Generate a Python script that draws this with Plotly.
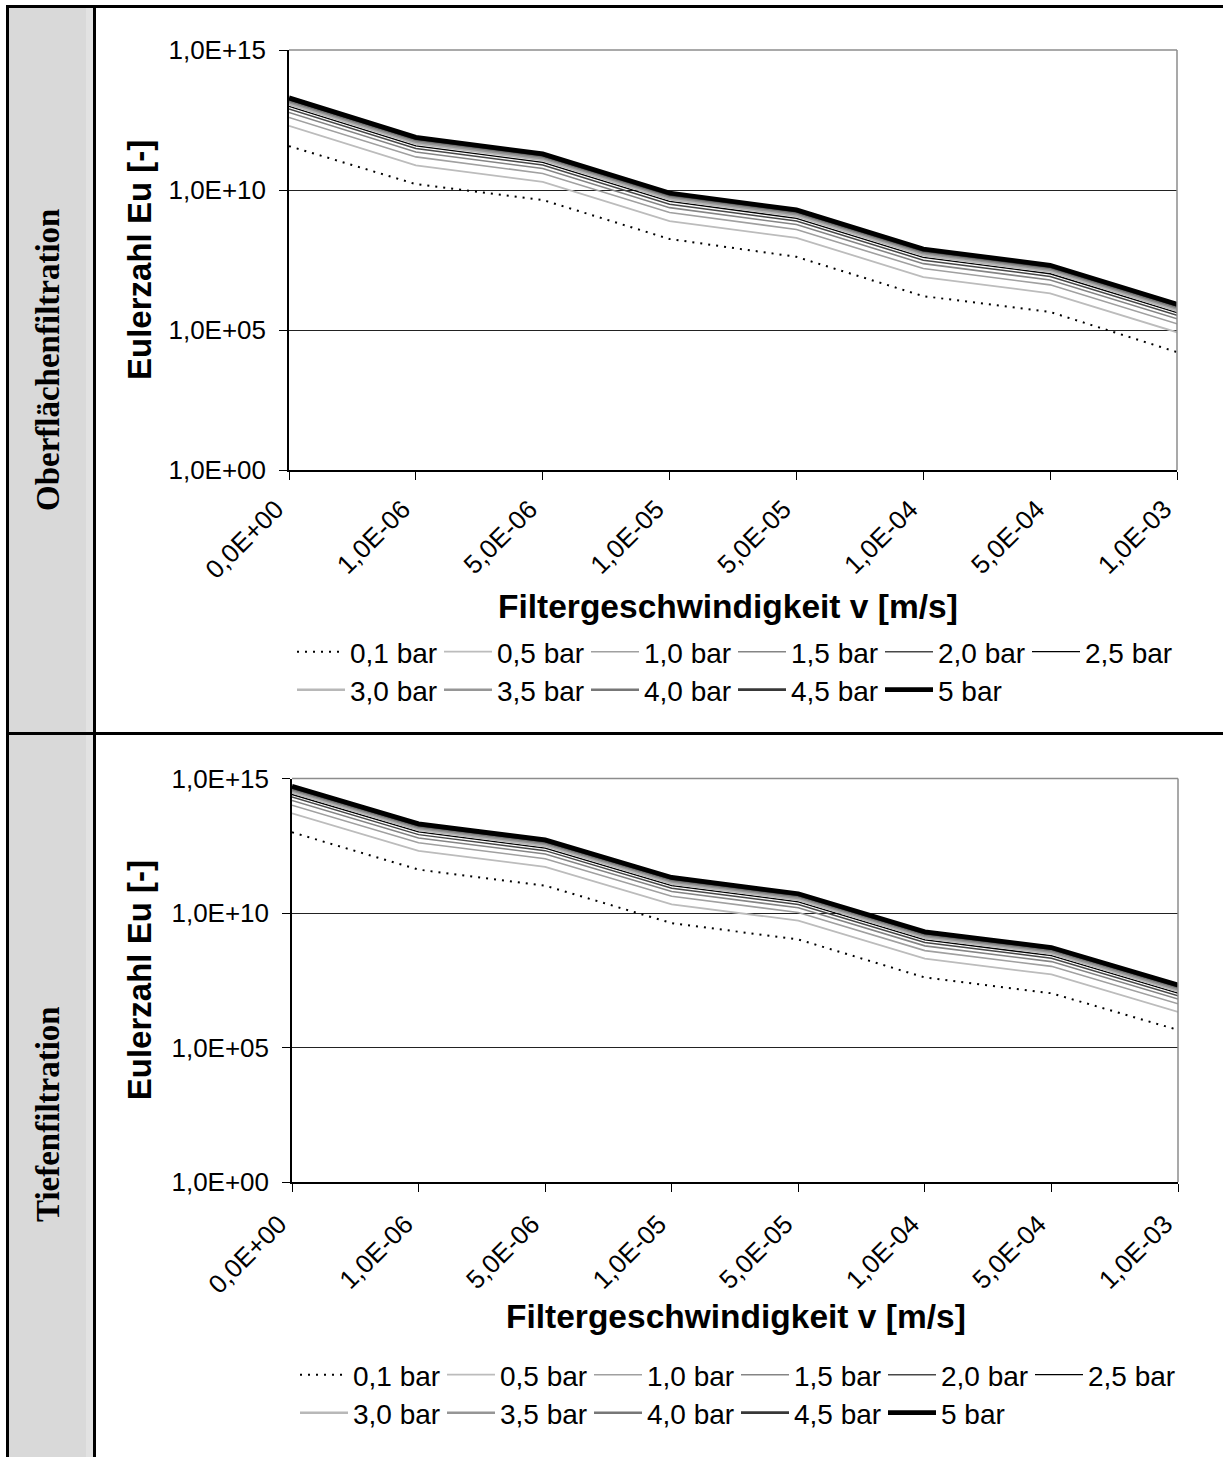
import plotly.graph_objects as go

W, H = 1223, 1457

# ---------------- data ----------------
categories = ["0,0E+00", "1,0E-06", "5,0E-06", "1,0E-05", "5,0E-05", "1,0E-04", "5,0E-04", "1,0E-03"]
series_names = ["0,1 bar", "0,5 bar", "1,0 bar", "1,5 bar", "2,0 bar", "2,5 bar",
                "3,0 bar", "3,5 bar", "4,0 bar", "4,5 bar", "5 bar"]
y_tickvals = [1, 1e5, 1e10, 1e15]
y_ticktext = ["1,0E+00", "1,0E+05", "1,0E+10", "1,0E+15"]

# Oberflächenfiltration
ober_p01 = [3.7e11, 1.62e10, 4.4e9, 1.78e8, 4.1e7, 1.62e6, 4.4e5, 1.62e4]
ober_p05 = [1.95e12, 7.6e10, 1.95e10, 7.8e8, 1.95e8, 7.8e6, 2.04e6, 8.3e4]
ober_p10 = [3.9e12, 1.52e11, 3.9e10, 1.56e9, 3.9e8, 1.56e7, 4.1e6, 1.66e5]
ober_p15 = [5.85e12, 2.28e11, 5.85e10, 2.34e9, 5.85e8, 2.34e7, 6.1e6, 2.5e5]
ober_p20 = [7.8e12, 3.04e11, 7.8e10, 3.12e9, 7.8e8, 3.12e7, 8.2e6, 3.33e5]
ober_p25 = [9.75e12, 3.8e11, 9.75e10, 3.9e9, 9.75e8, 3.9e7, 1.02e7, 4.16e5]
ober_p30 = [1.17e13, 4.55e11, 1.17e11, 4.68e9, 1.17e9, 4.68e7, 1.22e7, 5.0e5]
ober_p35 = [1.37e13, 5.3e11, 1.37e11, 5.46e9, 1.37e9, 5.46e7, 1.43e7, 5.8e5]
ober_p40 = [1.56e13, 6.1e11, 1.56e11, 6.24e9, 1.56e9, 6.24e7, 1.63e7, 6.66e5]
ober_p45 = [1.76e13, 6.8e11, 1.76e11, 7.0e9, 1.76e9, 7.0e7, 1.84e7, 7.5e5]
ober_p50 = [1.95e13, 7.6e11, 1.95e11, 7.8e9, 1.95e9, 7.8e7, 2.04e7, 8.3e5]

# Tiefenfiltration
tief_p01 = [1.0e13, 4.1e11, 1.04e11, 4.2e9, 1.04e9, 4.0e7, 1.04e7, 4.5e5]
tief_p05 = [5.1e13, 2.05e12, 5.2e11, 2.1e10, 5.2e9, 2.0e8, 5.2e7, 2.1e6]
tief_p10 = [1.02e14, 4.1e12, 1.04e12, 4.2e10, 1.04e10, 4.0e8, 1.04e8, 4.2e6]
tief_p15 = [1.53e14, 6.15e12, 1.56e12, 6.3e10, 1.56e10, 6.0e8, 1.56e8, 6.3e6]
tief_p20 = [2.04e14, 8.2e12, 2.08e12, 8.4e10, 2.08e10, 8.0e8, 2.08e8, 8.4e6]
tief_p25 = [2.55e14, 1.03e13, 2.6e12, 1.05e11, 2.6e10, 1.0e9, 2.6e8, 1.05e7]
tief_p30 = [3.06e14, 1.23e13, 3.12e12, 1.26e11, 3.12e10, 1.2e9, 3.12e8, 1.26e7]
tief_p35 = [3.57e14, 1.44e13, 3.64e12, 1.47e11, 3.64e10, 1.4e9, 3.64e8, 1.47e7]
tief_p40 = [4.08e14, 1.64e13, 4.16e12, 1.68e11, 4.16e10, 1.6e9, 4.16e8, 1.68e7]
tief_p45 = [4.6e14, 1.85e13, 4.7e12, 1.89e11, 4.7e10, 1.8e9, 4.7e8, 1.89e7]
tief_p50 = [5.1e14, 2.05e13, 5.2e12, 2.1e11, 5.2e10, 2.0e9, 5.2e8, 2.1e7]

ober_series = [ober_p01, ober_p05, ober_p10, ober_p15, ober_p20, ober_p25,
               ober_p30, ober_p35, ober_p40, ober_p45, ober_p50]
tief_series = [tief_p01, tief_p05, tief_p10, tief_p15, tief_p20, tief_p25,
               tief_p30, tief_p35, tief_p40, tief_p45, tief_p50]

# ---------------- styles ----------------
line_styles = [
    dict(color="#000000", width=2, dash="2px,6px"),
    dict(color="#bcbcbc", width=1.8),
    dict(color="#a0a0a0", width=1.6),
    dict(color="#858585", width=1.6),
    dict(color="#484848", width=1.5),
    dict(color="#000000", width=1.3),
    dict(color="#b8b8b8", width=2.5),
    dict(color="#969696", width=2.5),
    dict(color="#777777", width=2.5),
    dict(color="#383838", width=2.8),
    dict(color="#000000", width=4.8),
]

SANS = "Arial, Liberation Sans, sans-serif"
SERIF = "Times New Roman, Liberation Serif, serif"


def px(x):
    return x / W


def py(y):
    return 1 - y / H


fig = go.Figure()

for i, (name, vals) in enumerate(zip(series_names, ober_series)):
    fig.add_trace(go.Scatter(
        x=categories, y=vals, mode="lines", name=name, line=line_styles[i],
        xaxis="x", yaxis="y", legend="legend" if i < 6 else "legend2",
        showlegend=True))

for i, (name, vals) in enumerate(zip(series_names, tief_series)):
    fig.add_trace(go.Scatter(
        x=categories, y=vals, mode="lines", name=name, line=line_styles[i],
        xaxis="x2", yaxis="y2", legend="legend3" if i < 6 else "legend4",
        showlegend=True))

# plot areas (pixel coordinates)
P1 = dict(l=289, r=1177, t=50, b=470)
P2 = dict(l=292, r=1178, t=778.5, b=1182)


def xaxis_conf(P, anchor, standoff):
    return dict(
        domain=[px(P["l"]), px(P["r"])], anchor=anchor, type="category",
        categoryorder="array", categoryarray=categories, range=[0, 7],
        tickangle=-45, ticks="outside", ticklen=8, tickwidth=1.2, tickcolor="#000",
        ticklabelstandoff=standoff, ticklabelshift=-13,
        showline=True, linecolor="#000", linewidth=1.5, showgrid=False, zeroline=False,
        automargin=False,
        tickfont=dict(family=SANS, size=26, color="#000"), fixedrange=True,
    )


def yaxis_conf(P, anchor):
    return dict(
        domain=[py(P["b"]), py(P["t"])], anchor=anchor, type="log", range=[0, 15],
        tickmode="array", tickvals=y_tickvals, ticktext=y_ticktext,
        ticks="outside", ticklen=8, tickwidth=1.2, tickcolor="#000",
        showline=True, linecolor="#000", linewidth=1.5,
        showgrid=True, gridcolor="#222", gridwidth=1.2, zeroline=False,
        ticklabelstandoff=8, automargin=False,
        tickfont=dict(family=SANS, size=26, color="#000"), fixedrange=True,
    )


legend_common = dict(orientation="h", xanchor="left", yanchor="middle",
                     font=dict(family=SANS, size=28, color="#000"),
                     bgcolor="rgba(0,0,0,0)", borderwidth=0,
                     entrywidthmode="pixels", entrywidth=84, itemwidth=48,
                     traceorder="normal", itemclick=False, itemdoubleclick=False)

fig.update_layout(
    width=W, height=H, margin=dict(l=0, r=0, t=0, b=0, pad=0, autoexpand=False),
    paper_bgcolor="#ffffff", plot_bgcolor="#ffffff",
    xaxis=xaxis_conf(P1, "y", 4), yaxis=yaxis_conf(P1, "x"),
    xaxis2=xaxis_conf(P2, "y2", 7), yaxis2=yaxis_conf(P2, "x2"),
    legend=dict(legend_common, x=px(292), y=py(652)),
    legend2=dict(legend_common, x=px(292), y=py(690)),
    legend3=dict(legend_common, x=px(295), y=py(1375)),
    legend4=dict(legend_common, x=px(295), y=py(1413)),
    showlegend=True,
)

shapes = []
# table structure
shapes.append(dict(type="rect", xref="paper", yref="paper", x0=px(8), x1=px(93), y0=0, y1=py(7),
                   fillcolor="#d9d9d9", line=dict(width=0), layer="below"))
shapes.append(dict(type="rect", xref="paper", yref="paper", x0=px(86), x1=px(93), y0=0, y1=py(7),
                   fillcolor="#e2e2e2", line=dict(width=0), layer="below"))
for (x0, x1, y0, y1) in [(6, W, 5, 8), (6, 9, 5, H), (93, 96, 5, H), (6, W, 732, 735)]:
    shapes.append(dict(type="rect", xref="paper", yref="paper", x0=px(x0), x1=px(x1),
                       y0=py(y1), y1=py(y0), fillcolor="#000", line=dict(width=0), layer="above"))
# gray plot-area border (top and right)
for xr, yr in [("x domain", "y domain"), ("x2 domain", "y2 domain")]:
    shapes.append(dict(type="line", xref=xr, yref=yr, x0=0, x1=1, y0=1, y1=1,
                       line=dict(color="#8c8c8c", width=1.5), layer="above"))
    shapes.append(dict(type="line", xref=xr, yref=yr, x0=1, x1=1, y0=0, y1=1,
                       line=dict(color="#8c8c8c", width=1.5), layer="above"))
fig.update_layout(shapes=shapes)

ann = []
# row labels
ann.append(dict(text="<b>Oberflächenfiltration</b>", x=px(48), y=py(360), xref="paper", yref="paper",
                textangle=-90, showarrow=False, xanchor="center", yanchor="middle",
                font=dict(family=SERIF, size=33, color="#000")))
ann.append(dict(text="<b>Tiefenfiltration</b>", x=px(48), y=py(1114), xref="paper", yref="paper",
                textangle=-90, showarrow=False, xanchor="center", yanchor="middle",
                font=dict(family=SERIF, size=33, color="#000")))
# axis titles
for ycen in [(P1["t"] + P1["b"]) / 2, (P2["t"] + P2["b"]) / 2]:
    ann.append(dict(text="<b>Eulerzahl Eu [-]</b>", x=px(139), y=py(ycen), xref="paper", yref="paper",
                    textangle=-90, showarrow=False, xanchor="center", yanchor="middle",
                    font=dict(family=SANS, size=33, color="#000")))
for xcen, ycen in [(728, 606), (736, 1316)]:
    ann.append(dict(text="<b>Filtergeschwindigkeit v [m/s]</b>", x=px(xcen), y=py(ycen),
                    xref="paper", yref="paper", showarrow=False, xanchor="center", yanchor="middle",
                    font=dict(family=SANS, size=33.5, color="#000")))
fig.update_layout(annotations=ann)

fig.write_html("out.html")
